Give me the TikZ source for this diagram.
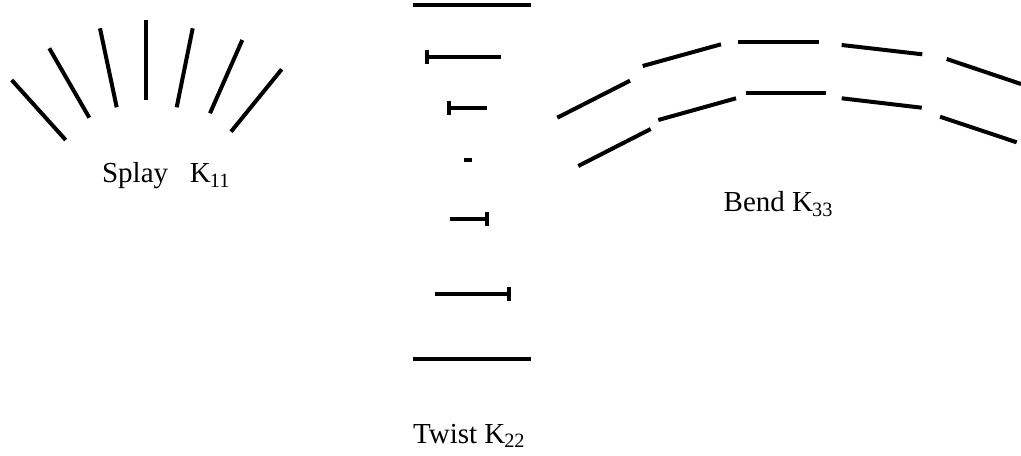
\documentclass[tikz,border=0pt]{standalone}
\usepackage{fontspec}
\setmainfont{Liberation Serif}
\usetikzlibrary{positioning}
\newcommand{\kconst}[1]{K\kern-0.5pt\textsubscript{#1}}
\begin{document}
\begin{tikzpicture}[x=0.5pt,y=-0.5pt]
\tikzstyle{rod}=[line width=2pt]
\tikzstyle{tbar}=[line width=2pt]
\tikzstyle{kname}=[inner sep=0pt,anchor=base west,font=\fontsize{14.5}{17}\selectfont]
\useasboundingbox (0,0) rectangle (1021,455);
% splay
\draw [rod] (11.7,80) -- (65.7,140);
\draw [rod] (49.3,48.3) -- (89.3,117.7);
\draw [rod] (100,28.3) -- (116.7,107.3);
\draw [rod] (146,20) -- (146,100);
\draw [rod] (192.7,28.3) -- (176.7,107.3);
\draw [rod] (242.3,40) -- (210,113.3);
\draw [rod] (281.7,69.3) -- (231,131.7);
\node [kname] (splay) at (101.7,182.7) {Splay\ \ \ \kconst{11}};
% twist
\draw [rod] (412.7,5) -- (530.7,5);
\draw [rod] (426.7,56.7) -- (501,56.7);
\draw [tbar] (426.7,49.7) -- (426.7,63.7);
\draw [rod] (449.3,108.3) -- (486.7,108.3);
\draw [tbar] (449.3,101.3) -- (449.3,115.3);
\fill (464.3,158) rectangle (471.7,162.3);
\draw [rod] (450,219.3) -- (486.7,219.3);
\draw [tbar] (486.7,212.3) -- (486.7,226.3);
\draw [rod] (435,294) -- (509.3,294);
\draw [tbar] (509.3,287) -- (509.3,301);
\draw [rod] (412.7,359.3) -- (530.7,359.3);
\node [kname] (twist) at (412.7,443.3) {Twist \kconst{22}};
% bend
\draw [rod] (557.3,117.7) -- (630,80.7);
\draw [rod] (642.7,66) -- (721,44.3);
\draw [rod] (738.3,41.7) -- (819,41.7);
\draw [rod] (841.7,45) -- (922.3,54.3);
\draw [rod] (946.7,59) -- (1021,84);
\draw [rod] (578.3,166) -- (650.7,129);
\draw [rod] (658.3,120) -- (736,98.3);
\draw [rod] (745.7,93.3) -- (826,93.3);
\draw [rod] (841.7,98.3) -- (921.7,107.7);
\draw [rod] (940,116.7) -- (1016.7,142.3);
\node [kname] (bend) at (723.3,211.7) {Bend \kconst{33}};
\end{tikzpicture}
\end{document}
